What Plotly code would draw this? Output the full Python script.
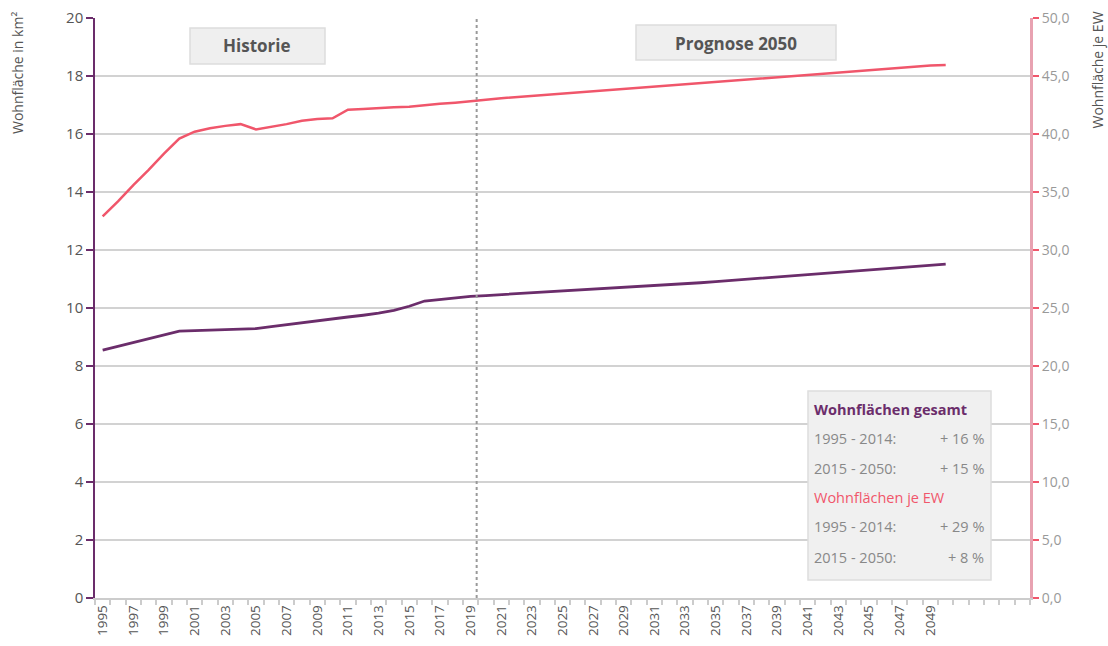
import plotly.graph_objects as go

years = list(range(1995, 2051))

# Wohnflächen gesamt (km², left axis)
flaeche_gesamt = [
    8.55, 8.68, 8.81, 8.94, 9.07, 9.20, 9.22, 9.24, 9.25, 9.27,
    9.29, 9.36, 9.43, 9.50, 9.57, 9.63, 9.69, 9.75, 9.82, 9.92,
    10.06, 10.24, 10.30, 10.35, 10.40, 10.43, 10.46, 10.50, 10.53, 10.56,
    10.59, 10.62, 10.66, 10.69, 10.72, 10.75, 10.78, 10.81, 10.84, 10.87,
    10.91, 10.95, 10.99, 11.03, 11.07, 11.11, 11.15, 11.19, 11.23, 11.27,
    11.31, 11.35, 11.39, 11.43, 11.47, 11.51,
]

# Wohnfläche je EW (m², right axis)
flaeche_je_ew = [
    32.9, 34.2, 35.6, 36.9, 38.3, 39.6, 40.2, 40.5, 40.7, 40.85,
    40.4, 40.6, 40.85, 41.15, 41.3, 41.35, 42.1, 42.15, 42.25, 42.3,
    42.35, 42.5, 42.6, 42.7, 42.85, 42.95, 43.08, 43.18, 43.28, 43.4,
    43.5, 43.6, 43.7, 43.83, 43.93, 44.0, 44.1, 44.2, 44.3, 44.4,
    44.5, 44.6, 44.7, 44.8, 44.9, 45.0, 45.1, 45.2, 45.3, 45.4,
    45.5, 45.6, 45.7, 45.8, 45.9, 45.95,
]

tick_years = list(range(1995, 2050, 2))
tick_labels = [str(y) for y in tick_years]
left_ticks = list(range(0, 21, 2))
right_ticks = [0, 5, 10, 15, 20, 25, 30, 35, 40, 45, 50]
right_labels = [f"{v:.1f}".replace(".", ",") for v in right_ticks]

PURPLE = "#6b2d6b"
RED = "#f0566b"
FONT = "Open Sans"

# plot area in pixels
L, R, T, B = 95, 1030, 18, 598
W, H = R - L, B - T


def px(x):
    return (x - L) / W


def py(y):
    return (B - y) / H


fig = go.Figure()
fig.add_trace(go.Scatter(x=years, y=flaeche_gesamt, mode="lines",
                         line=dict(color=PURPLE, width=2.8),
                         name="Wohnflächen gesamt", yaxis="y"))
fig.add_trace(go.Scatter(x=years, y=flaeche_je_ew, mode="lines",
                         line=dict(color=RED, width=2.5),
                         name="Wohnflächen je EW", yaxis="y2"))

shapes = [
    dict(type="line", xref="x", yref="paper", x0=2019.4, x1=2019.4, y0=0, y1=1,
         line=dict(color="#999999", width=2, dash="dot")),
    dict(type="rect", xref="paper", yref="paper", x0=px(190), x1=px(325),
         y0=py(64), y1=py(28), fillcolor="#efefef", line=dict(color="#dddddd", width=1.5),
         layer="above"),
    dict(type="rect", xref="paper", yref="paper", x0=px(636), x1=px(836),
         y0=py(60), y1=py(25), fillcolor="#efefef", line=dict(color="#dddddd", width=1.5),
         layer="above"),
    dict(type="rect", xref="paper", yref="paper", x0=px(808), x1=px(991),
         y0=py(580), y1=py(391), fillcolor="#f0f0f0", line=dict(color="#dddddd", width=1.5),
         layer="above"),
]

ann = [
    dict(text="<b>Historie</b>", x=px(257), y=py(46), xref="paper", yref="paper",
         xanchor="center", yanchor="middle", showarrow=False,
         font=dict(family=FONT, size=17, color="#555555")),
    dict(text="<b>Prognose 2050</b>", x=px(736), y=py(43), xref="paper", yref="paper",
         xanchor="center", yanchor="middle", showarrow=False,
         font=dict(family=FONT, size=17, color="#555555")),
    dict(text="Wohnfläche in km²", x=px(18), y=py(10), xref="paper", yref="paper",
         xanchor="center", yanchor="top", textangle=-90, showarrow=False,
         font=dict(family=FONT, size=14, color="#555555")),
    dict(text="Wohnfläche je EW", x=px(1097), y=py(10), xref="paper", yref="paper",
         xanchor="center", yanchor="top", textangle=-90, showarrow=False,
         font=dict(family=FONT, size=14, color="#555555")),
]

info_rows = [
    ("<b>Wohnflächen gesamt</b>", None, PURPLE, 409),
    ("1995 - 2014:", "+ 16 %", "#888888", 438),
    ("2015 - 2050:", "+ 15 %", "#888888", 468),
    ("Wohnflächen je EW", None, RED, 497),
    ("1995 - 2014:", "+ 29 %", "#888888", 526),
    ("2015 - 2050:", "+ 8 %", "#888888", 557),
]
for left, right, col, yy in info_rows:
    ann.append(dict(text=left, x=px(812), y=py(yy), xref="paper", yref="paper",
                    xanchor="left", yanchor="middle", showarrow=False,
                    font=dict(family=FONT, size=14.5, color=col)))
    if right:
        ann.append(dict(text=right, x=px(986), y=py(yy), xref="paper", yref="paper",
                        xanchor="right", yanchor="middle", showarrow=False,
                        font=dict(family=FONT, size=14.5, color=col)))

fig.update_layout(
    width=1108, height=646,
    margin=dict(l=L, r=1108 - R, t=T, b=646 - B, autoexpand=False),
    paper_bgcolor="white", plot_bgcolor="white",
    showlegend=False,
    shapes=shapes,
    annotations=ann,
    xaxis=dict(
        range=[1994.5, 2055.5], automargin=False,
        tickvals=tick_years, ticktext=tick_labels,
        tickangle=-90, ticks="", ticklen=0,
        tickfont=dict(family=FONT, size=13.5, color="#555555"),
        showgrid=False, zeroline=False,
        showline=True, linecolor="#cccccc", linewidth=1.5,
        minor=dict(tick0=1994.5, dtick=1, ticks="outside", ticklen=5,
                   tickcolor="#cccccc", tickwidth=1.5, showgrid=False),
    ),
    yaxis=dict(
        range=[0, 20], tickvals=left_ticks, automargin=False,
        tickfont=dict(family=FONT, size=15, color="#555555"),
        showgrid=True, gridcolor="#d2d2d2", gridwidth=1.5,
        zeroline=False,
        showline=True, linecolor=PURPLE, linewidth=1.5,
        ticks="outside", ticklen=7, tickcolor=PURPLE, tickwidth=1.5,
    ),
    yaxis2=dict(
        range=[0, 50], tickvals=right_ticks, ticktext=right_labels,
        overlaying="y", side="right", automargin=False,
        tickfont=dict(family=FONT, size=14, color="#999999"),
        showgrid=False, zeroline=False,
        showline=True, linecolor="#e8a2b1", linewidth=3,
        ticks="outside", ticklen=6, tickcolor=RED, tickwidth=1.5,
    ),
)

fig.write_html("out.html", config={"displayModeBar": False},
               post_script="document.body.style.margin='0px';document.body.style.overflow='hidden';")
